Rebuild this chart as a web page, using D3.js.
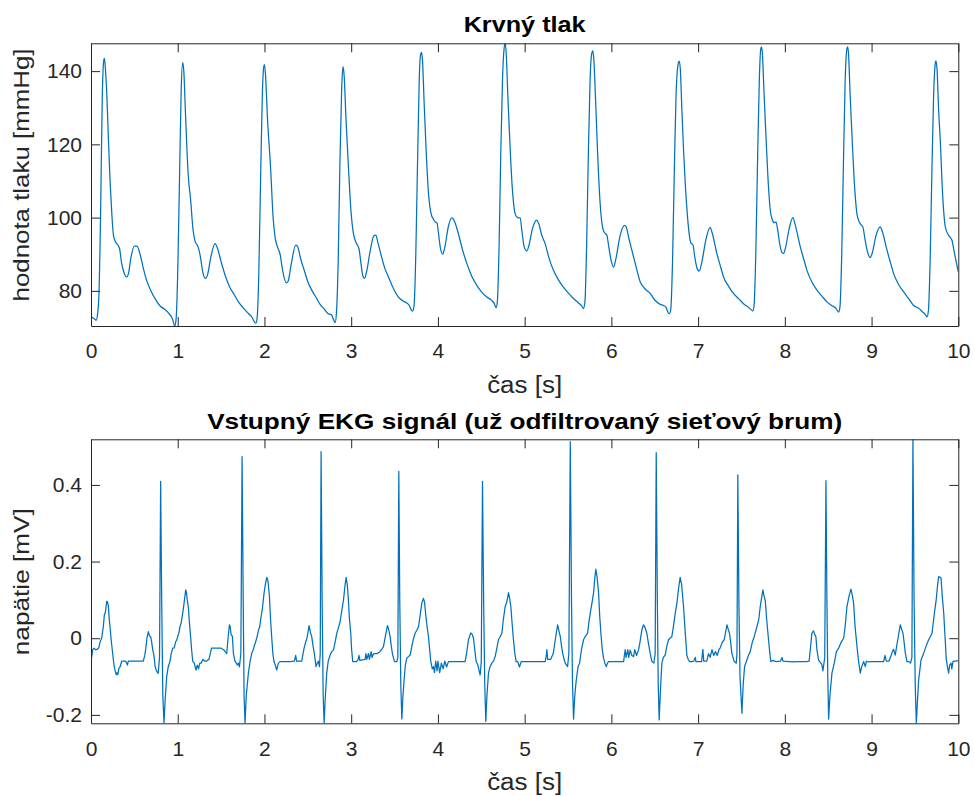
<!DOCTYPE html>
<html><head><meta charset="utf-8">
<script src="https://cdn.jsdelivr.net/npm/d3@7/dist/d3.min.js"></script>
<style>body{margin:0;background:#fff}svg{display:block}</style></head>
<body><svg id="chart" width="975" height="796"></svg>
<script>
// ---------------- data ----------------
const xTicks = [0, 1, 2, 3, 4, 5, 6, 7, 8, 9, 10];
const bpTicks = [80, 100, 120, 140];
const ekgTicks = [-0.2, 0, 0.2, 0.4];

const bpTitle = "Krvný tlak";
const ekgTitle = "Vstupný EKG signál (už odfiltrovaný sieťový brum)";
const xLabel = "čas [s]";
const bpYLabel = "hodnota tlaku [mmHg]";
const ekgYLabel = "napätie [mV]";

// blood pressure samples [time s, pressure mmHg]
const bpSamples = [
 [0,73.0],[0.03,72.5],[0.06,72.0],[0.075,73.5],[0.09,78],[0.11,100],[0.13,133],[0.145,142.5],[0.155,143.5],[0.165,141],[0.18,135],[0.2,122],[0.22,110],[0.24,101],[0.26,95],[0.28,93.5],[0.31,92.5],[0.33,91.5],[0.35,88],[0.38,85],[0.41,83.8],[0.43,84.5],[0.46,89],[0.5,92.2],[0.53,92.2],[0.56,90.5],[0.6,86.5],[0.64,83],[0.69,80],[0.74,77.8],[0.8,75.8],[0.85,75.0],[0.9,73.8],[0.94,72.3],[0.965,70.4],
 [0.98,72],[1.0,85],[1.02,110],[1.04,135],[1.057,142.3],[1.07,140],[1.09,128],[1.12,112],[1.15,104.5],[1.175,97],[1.2,93.5],[1.235,92],[1.26,89.5],[1.29,85],[1.32,83.4],[1.345,84.5],[1.38,89],[1.43,92.9],[1.46,91.5],[1.5,88],[1.55,84],[1.6,81],[1.65,79],[1.7,77],[1.75,75.5],[1.8,74.2],[1.85,73],[1.9,71.2],
 [1.915,72.5],[1.935,85],[1.955,110],[1.975,133],[1.99,141],[2.0,141.8],[2.012,139],[2.035,127],[2.07,113.9],[2.1,100],[2.12,95],[2.15,92],[2.18,90],[2.21,85.5],[2.25,82.2],[2.27,82.5],[2.31,87.5],[2.36,92.5],[2.38,92.2],[2.42,88.5],[2.46,85.5],[2.5,82.5],[2.55,80],[2.6,78],[2.65,76],[2.69,75],[2.73,73.8],[2.77,73.5],[2.8,72],[2.815,71.3],
 [2.83,74],[2.85,88],[2.87,115],[2.89,135],[2.905,141.2],[2.918,139],[2.94,127],[2.968,113.9],[3.0,101],[3.026,95.6],[3.06,93],[3.09,91.5],[3.11,88],[3.135,84],[3.155,83.4],[3.18,85.5],[3.22,91],[3.26,95],[3.283,95.2],[3.31,93],[3.35,89.3],[3.39,86],[3.43,83.8],[3.48,81],[3.545,78.3],[3.6,77.2],[3.64,76.7],[3.67,76],[3.695,74.7],[3.71,74.5],
 [3.725,76],[3.745,90],[3.765,115],[3.785,138],[3.8,144.5],[3.81,145.1],[3.822,143],[3.84,132],[3.864,118.4],[3.89,107],[3.921,101.1],[3.95,99.5],[3.97,98.8],[3.99,98.5],[4.005,96],[4.03,91.5],[4.056,90],[4.08,92],[4.12,97.5],[4.16,99.9],[4.18,99.5],[4.236,95.6],[4.28,91.5],[4.333,87.5],[4.39,84],[4.449,81.5],[4.5,79.8],[4.564,78.3],[4.62,77.4],[4.65,76.5],[4.671,75.4],
 [4.685,77],[4.705,92],[4.725,118],[4.745,138],[4.765,146.6],[4.775,147.6],[4.787,145],[4.805,134],[4.825,123],[4.855,109],[4.89,101.1],[4.92,100],[4.948,99.9],[4.97,96],[4.995,92],[5.025,90.9],[5.05,92.5],[5.09,97],[5.14,99.3],[5.16,98.5],[5.2,95],[5.236,92.9],[5.28,89],[5.332,85.6],[5.39,83],[5.447,81],[5.5,79.5],[5.563,77.9],[5.62,76.7],[5.66,75.8],[5.678,75.2],
 [5.695,77],[5.715,93],[5.735,118],[5.755,138],[5.775,145],[5.786,145.5],[5.798,143],[5.818,132],[5.84,118.4],[5.87,104],[5.902,97],[5.925,95.8],[5.948,95.2],[5.97,92],[6.0,88],[6.025,86.5],[6.05,88.5],[6.1,95],[6.15,97.9],[6.17,97.5],[6.2,94.5],[6.236,91.1],[6.28,87],[6.332,82.5],[6.39,80.5],[6.447,79.3],[6.5,77.5],[6.563,76.3],[6.6,76],[6.63,75.5],[6.655,74],[6.67,73.8],
 [6.685,75],[6.705,88],[6.725,112],[6.745,133],[6.77,142],[6.782,142.7],[6.795,140.5],[6.812,130],[6.832,118.4],[6.855,108],[6.878,100.2],[6.9,95],[6.916,93.1],[6.94,92.6],[6.96,89.5],[6.99,86],[7.013,85.4],[7.04,87.5],[7.09,94],[7.139,97.3],[7.16,96],[7.216,90.2],[7.26,86.5],[7.293,83.8],[7.35,81.3],[7.408,79.3],[7.47,77.8],[7.524,76.5],[7.58,75.5],[7.615,74.8],[7.631,74.5],
 [7.645,76],[7.665,90],[7.685,115],[7.705,137],[7.722,146],[7.731,146.6],[7.742,144.5],[7.76,134],[7.781,123],[7.805,111],[7.832,102],[7.855,99.5],[7.878,98.6],[7.9,98.8],[7.915,97],[7.94,93],[7.965,90.5],[7.985,90.2],[8.01,92],[8.05,97],[8.093,100],[8.12,98],[8.178,92],[8.22,88.5],[8.255,85.6],[8.31,82.5],[8.37,80.2],[8.43,78.5],[8.485,77],[8.54,76],[8.59,75.2],[8.619,74.2],
 [8.635,75.5],[8.655,89],[8.675,114],[8.695,137],[8.715,146],[8.724,146.6],[8.735,144.5],[8.752,134],[8.773,123],[8.8,110],[8.831,101.1],[8.855,99],[8.88,98],[8.9,97.4],[8.925,94],[8.955,90.5],[8.985,89.1],[9.01,90.5],[9.05,95],[9.1,97.5],[9.12,96.5],[9.178,91.1],[9.22,87.5],[9.254,84.7],[9.31,81.8],[9.37,79.7],[9.43,77.8],[9.485,76],[9.54,75.3],[9.59,74.2],[9.62,73.5],[9.639,72.9],
 [9.655,74.5],[9.675,88],[9.695,112],[9.715,133],[9.735,142.2],[9.742,142.8],[9.755,140.5],[9.772,130],[9.792,121.1],[9.82,106],[9.85,97.5],[9.88,95.5],[9.91,94.5],[9.927,93.8],[9.95,91],[9.975,88],[10.0,85.2]
];

// ECG samples [time s, voltage mV]
const ekgSamples = [
 [0.0,-0.06],[0.007,-0.05],[0.02,-0.03],[0.035,-0.026],[0.05,-0.03],[0.065,-0.03],[0.09,-0.025],[0.104,-0.01],[0.123,0.0],[0.142,0.03],[0.155,0.063],[0.165,0.066],[0.181,0.096],[0.19,0.095],[0.2,0.085],[0.21,0.05],[0.219,0.03],[0.235,-0.01],[0.25,-0.04],[0.265,-0.07],[0.277,-0.083],[0.29,-0.095],[0.3,-0.09],[0.31,-0.095],[0.32,-0.08],[0.335,-0.075],[0.354,-0.06],[0.38,-0.06],[0.4,-0.06],[0.42,-0.07],[0.43,-0.06],[0.5,-0.06],[0.55,-0.06],[0.603,-0.06],
 [0.62,-0.045],[0.63,-0.03],[0.645,0.0],[0.661,0.017],[0.675,0.006],[0.688,0.004],[0.7,-0.01],[0.711,-0.03],[0.726,-0.045],[0.74,-0.075],[0.755,-0.085],[0.775,-0.092],[0.79,-0.05],[0.803,0.409],[0.815,0.1],[0.828,-0.15],[0.842,-0.222],[0.855,-0.16],[0.873,-0.1],[0.89,-0.075],[0.911,-0.06],[0.925,-0.04],[0.942,-0.026],[0.96,-0.025],[0.975,-0.01],[0.988,-0.005],[1.0,0.005],[1.015,0.015],[1.026,0.03],[1.04,0.04],[1.057,0.065],[1.075,0.095],[1.092,0.126],[1.1,0.12],[1.11,0.1],[1.123,0.08],[1.135,0.04],[1.15,0.0],[1.16,-0.03],[1.173,-0.06],[1.19,-0.065],[1.211,-0.083],[1.225,-0.07],[1.24,-0.08],[1.255,-0.065],[1.27,-0.065],[1.29,-0.055],[1.31,-0.06],[1.33,-0.06],[1.36,-0.055],[1.39,-0.026],[1.45,-0.026],[1.5,-0.026],[1.53,-0.03],[1.546,-0.035],
 [1.565,-0.04],[1.58,0.0],[1.596,0.035],[1.605,0.03],[1.615,0.01],[1.63,0.005],[1.642,-0.04],[1.66,-0.06],[1.675,-0.065],[1.688,-0.07],[1.7,-0.065],[1.711,-0.075],[1.728,-0.04],[1.742,0.474],[1.755,0.1],[1.765,-0.15],[1.776,-0.222],[1.79,-0.15],[1.815,-0.09],[1.835,-0.06],[1.853,-0.04],[1.87,-0.03],[1.89,-0.015],[1.911,0.0],[1.93,0.02],[1.945,0.03],[1.961,0.056],[1.975,0.075],[1.995,0.117],[2.01,0.14],[2.026,0.159],[2.04,0.15],[2.057,0.11],[2.07,0.05],[2.083,0.004],[2.097,-0.04],[2.11,-0.061],[2.125,-0.07],[2.141,-0.083],[2.16,-0.065],[2.18,-0.061],[2.25,-0.061],[2.3,-0.061],[2.345,-0.06],[2.36,-0.045],[2.37,-0.06],[2.43,-0.06],
 [2.445,-0.04],[2.457,-0.026],[2.475,-0.01],[2.49,0.0],[2.515,0.033],[2.53,0.015],[2.545,0.004],[2.56,-0.02],[2.575,-0.04],[2.595,-0.074],[2.61,-0.065],[2.622,-0.06],[2.634,-0.074],[2.643,-0.04],[2.653,0.487],[2.665,0.1],[2.677,-0.15],[2.688,-0.222],[2.7,-0.16],[2.718,-0.091],[2.735,-0.06],[2.757,-0.044],[2.775,-0.035],[2.795,-0.031],[2.815,-0.01],[2.834,0.013],[2.85,0.025],[2.872,0.043],[2.89,0.07],[2.911,0.099],[2.925,0.13],[2.941,0.159],[2.955,0.14],[2.968,0.099],[2.98,0.05],[2.995,0.013],[3.005,-0.03],[3.018,-0.061],[3.04,-0.061],[3.06,-0.061],
 [3.08,-0.055],[3.09,-0.045],[3.1,-0.058],[3.16,-0.055],[3.17,-0.04],[3.18,-0.055],[3.2,-0.04],[3.21,-0.055],[3.23,-0.035],[3.24,-0.05],[3.26,-0.04],[3.3,-0.04],[3.33,-0.035],
 [3.35,-0.03],[3.372,-0.022],[3.39,0.0],[3.418,0.033],[3.43,0.025],[3.449,0.004],[3.462,-0.02],[3.475,-0.04],[3.499,-0.061],[3.526,-0.061],[3.538,-0.05],[3.549,0.435],[3.56,0.1],[3.572,-0.12],[3.584,-0.211],[3.597,-0.15],[3.61,-0.109],[3.625,-0.07],[3.641,-0.052],[3.66,-0.048],[3.68,-0.044],[3.7,-0.02],[3.72,0.0],[3.737,0.013],[3.755,0.02],[3.776,0.03],[3.795,0.06],[3.814,0.091],[3.833,0.104],[3.845,0.095],[3.86,0.06],[3.875,0.03],[3.891,0.004],[3.905,-0.03],[3.918,-0.061],[3.935,-0.08],[3.949,-0.074],[3.96,-0.09],[3.975,-0.06],[3.99,-0.085],[4.0,-0.06],[4.02,-0.09],[4.04,-0.065],[4.06,-0.08],[4.08,-0.06],[4.1,-0.075],[4.121,-0.061],[4.2,-0.061],[4.313,-0.061],
 [4.33,-0.04],[4.352,-0.004],[4.379,0.014],[4.395,0.01],[4.41,0.0],[4.425,-0.03],[4.441,-0.061],[4.46,-0.07],[4.487,-0.096],[4.5,-0.06],[4.514,0.409],[4.527,0.1],[4.54,-0.12],[4.552,-0.217],[4.565,-0.15],[4.583,-0.091],[4.6,-0.075],[4.621,-0.065],[4.64,-0.06],[4.66,-0.048],[4.68,-0.025],[4.698,-0.004],[4.72,0.005],[4.737,0.013],[4.755,0.05],[4.775,0.082],[4.795,0.095],[4.814,0.119],[4.83,0.1],[4.841,0.082],[4.855,0.04],[4.871,-0.004],[4.887,-0.04],[4.902,-0.061],[4.92,-0.061],[4.94,-0.075],[4.96,-0.061],[5.0,-0.061],[5.1,-0.061],[5.2,-0.061],[5.237,-0.061],[5.25,-0.045],[5.257,-0.03],[5.265,-0.055],[5.3,-0.055],[5.33,-0.04],
 [5.353,-0.004],[5.38,0.035],[5.395,0.02],[5.411,0.004],[5.425,-0.02],[5.438,-0.039],[5.455,-0.055],[5.468,-0.065],[5.495,-0.074],[5.51,-0.04],[5.526,0.513],[5.54,0.1],[5.552,-0.12],[5.564,-0.211],[5.578,-0.15],[5.595,-0.109],[5.615,-0.075],[5.633,-0.065],[5.655,-0.03],[5.679,-0.004],[5.7,0.005],[5.726,0.013],[5.74,0.04],[5.756,0.065],[5.775,0.09],[5.795,0.119],[5.81,0.16],[5.821,0.18],[5.835,0.16],[5.852,0.119],[5.865,0.06],[5.879,0.013],[5.895,-0.03],[5.91,-0.052],[5.925,-0.065],[5.941,-0.074],[5.955,-0.065],[5.968,-0.061],[6.05,-0.061],[6.141,-0.061],[6.15,-0.045],[6.16,-0.03],[6.17,-0.05],[6.19,-0.03],[6.2,-0.05],[6.217,-0.031],[6.236,-0.045],[6.255,-0.048],[6.27,-0.03],[6.29,-0.045],
 [6.313,-0.031],[6.33,-0.01],[6.35,0.02],[6.37,0.035],[6.385,0.03],[6.409,0.013],[6.425,-0.01],[6.447,-0.039],[6.467,-0.061],[6.49,-0.065],[6.505,-0.04],[6.517,0.484],[6.53,0.1],[6.54,-0.12],[6.551,-0.213],[6.565,-0.14],[6.582,-0.065],[6.6,-0.05],[6.62,-0.044],[6.64,-0.02],[6.659,-0.004],[6.675,0.0],[6.697,0.004],[6.715,0.03],[6.736,0.065],[6.755,0.09],[6.775,0.13],[6.793,0.159],[6.81,0.14],[6.832,0.082],[6.85,0.02],[6.87,-0.044],[6.885,-0.055],[6.901,-0.061],[6.93,-0.061],[6.95,-0.06],[6.967,-0.05],[6.975,-0.061],[7.04,-0.061],[7.055,-0.029],[7.065,-0.06],[7.1,-0.06],[7.12,-0.04],[7.139,-0.05],[7.16,-0.03],[7.18,-0.045],[7.2,-0.035],[7.22,-0.045],[7.24,-0.03],[7.255,-0.025],
 [7.28,-0.01],[7.301,-0.004],[7.332,0.035],[7.345,0.025],[7.362,0.013],[7.375,-0.01],[7.389,-0.039],[7.416,-0.061],[7.44,-0.065],[7.448,-0.04],[7.458,0.426],[7.47,0.1],[7.483,-0.1],[7.505,-0.196],[7.52,-0.12],[7.536,-0.074],[7.562,-0.057],[7.58,-0.045],[7.601,-0.035],[7.625,-0.01],[7.647,0.004],[7.678,0.03],[7.7,0.05],[7.716,0.082],[7.735,0.11],[7.747,0.126],[7.76,0.11],[7.774,0.099],[7.79,0.05],[7.812,-0.004],[7.825,-0.035],[7.839,-0.061],[7.86,-0.058],[7.9,-0.061],[7.95,-0.06],[7.966,-0.05],[7.98,-0.06],[8.05,-0.061],[8.1,-0.062],[8.15,-0.061],[8.2,-0.061],[8.25,-0.061],[8.28,-0.06],
 [8.293,-0.03],[8.312,0.013],[8.331,0.019],[8.345,0.01],[8.358,0.004],[8.37,-0.03],[8.389,-0.057],[8.416,-0.065],[8.428,-0.07],[8.439,-0.085],[8.46,-0.05],[8.474,0.411],[8.485,0.1],[8.495,-0.1],[8.505,-0.211],[8.52,-0.15],[8.543,-0.091],[8.57,-0.065],[8.595,-0.035],[8.62,-0.026],[8.65,-0.01],[8.678,0.0],[8.695,0.03],[8.716,0.082],[8.74,0.11],[8.762,0.128],[8.78,0.11],[8.793,0.091],[8.81,0.03],[8.832,-0.022],[8.85,-0.06],[8.87,-0.091],[8.885,-0.075],[8.909,-0.061],[8.928,-0.074],[8.94,-0.06],[8.96,-0.062],[9.0,-0.061],[9.1,-0.061],[9.139,-0.061],[9.155,-0.045],[9.17,-0.06],[9.2,-0.06],[9.225,-0.045],[9.24,-0.035],[9.254,-0.029],[9.273,-0.044],[9.29,-0.02],
 [9.312,0.009],[9.331,0.035],[9.345,0.025],[9.362,0.013],[9.375,-0.01],[9.389,-0.039],[9.408,-0.061],[9.43,-0.061],[9.45,-0.065],[9.465,-0.05],[9.477,0.519],[9.49,0.1],[9.503,-0.12],[9.516,-0.222],[9.53,-0.16],[9.543,-0.109],[9.57,-0.057],[9.601,-0.039],[9.63,-0.02],[9.658,-0.004],[9.68,0.005],[9.697,0.013],[9.724,0.065],[9.745,0.1],[9.762,0.14],[9.774,0.161],[9.801,0.157],[9.815,0.11],[9.832,0.065],[9.848,0.0],[9.862,-0.057],[9.875,-0.075],[9.889,-0.091],[9.9,-0.07],[9.916,-0.065],[9.925,-0.08],[9.939,-0.061],[9.96,-0.06],[9.98,-0.059],[10.0,-0.059]
];

// ---------------- drawing ----------------
const svg = d3.select("#chart");
const FONT = "'Liberation Sans', Arial, Helvetica, sans-serif";
const AX = "#262626";
const LINE = "#0072BD";
const left = 91, right = 958.3;

const x = d3.scaleLinear().domain(d3.extent(xTicks)).range([left, right]);

function panel(cfg) {
  const y = d3.scaleLinear().domain(d3.extent(cfg.data, d => d[1])).range([cfg.bottom, cfg.top]);
  const g = svg.append("g");
  const clipId = "clip" + cfg.id;
  svg.append("clipPath").attr("id", clipId).append("rect")
    .attr("x", left).attr("y", cfg.top).attr("width", right - left).attr("height", cfg.bottom - cfg.top);

  const lineGen = d3.line().x(d => x(d[0])).y(d => y(d[1])).curve(cfg.curve);
  g.append("path").datum(cfg.data)
    .attr("d", lineGen).attr("fill", "none").attr("stroke", LINE)
    .attr("stroke-width", 1.25).attr("stroke-linejoin", "round")
    .attr("clip-path", `url(#${clipId})`);

  const fmt = d => String(d);
  const styleAxis = sel => {
    sel.select(".domain").attr("stroke", AX).attr("stroke-width", 1);
    sel.selectAll(".tick line").attr("stroke", AX).attr("stroke-width", 1);
    sel.selectAll(".tick text").attr("fill", AX).style("font-family", FONT).style("font-size", "21px");
  };
  const T = 9;
  g.append("g").attr("transform", `translate(0,${cfg.bottom})`)
    .call(d3.axisBottom(x).tickValues(xTicks).tickFormat(fmt).tickSizeInner(-T).tickSizeOuter(0).tickPadding(17.5))
    .call(styleAxis);
  g.append("g").attr("transform", `translate(0,${cfg.top})`)
    .call(d3.axisTop(x).tickValues(xTicks).tickFormat("").tickSizeInner(-T).tickSizeOuter(0))
    .call(styleAxis);
  g.append("g").attr("transform", `translate(${left},0)`)
    .call(d3.axisLeft(y).tickValues(cfg.ticks).tickFormat(fmt).tickSizeInner(-T).tickSizeOuter(0).tickPadding(9))
    .call(styleAxis);
  g.append("g").attr("transform", `translate(${right},0)`)
    .call(d3.axisRight(y).tickValues(cfg.ticks).tickFormat("").tickSizeInner(-T).tickSizeOuter(0))
    .call(styleAxis);

  // title
  svg.append("text").text(cfg.title)
    .attr("x", (left + right) / 2).attr("y", cfg.titleY)
    .attr("text-anchor", "middle").attr("font-family", FONT).attr("font-weight", "bold")
    .attr("font-size", 22).attr("fill", "#000")
    .attr("textLength", cfg.titleLen).attr("lengthAdjust", "spacingAndGlyphs");
  // x label
  svg.append("text").text(xLabel)
    .attr("x", (left + right) / 2).attr("y", cfg.xLabelY)
    .attr("text-anchor", "middle").attr("font-family", FONT)
    .attr("font-size", 23).attr("fill", AX)
    .attr("textLength", 75).attr("lengthAdjust", "spacingAndGlyphs");
  // y label
  svg.append("text").text(cfg.ylabel)
    .attr("transform", `translate(29,${cfg.yLabelC}) rotate(-90)`)
    .attr("text-anchor", "middle").attr("font-family", FONT)
    .attr("font-size", 22).attr("fill", AX)
    .attr("textLength", cfg.yLabelLen).attr("lengthAdjust", "spacingAndGlyphs");
}

panel({id: 1, data: bpSamples, ticks: bpTicks, top: 43.3, bottom: 326, curve: d3.curveMonotoneX,
  title: bpTitle, titleY: 31.7, titleLen: 122, xLabelY: 393, ylabel: bpYLabel, yLabelC: 175, yLabelLen: 253});
panel({id: 2, data: ekgSamples, ticks: ekgTicks, top: 439.3, bottom: 723.3, curve: d3.curveLinear,
  title: ekgTitle, titleY: 428.5, titleLen: 635, xLabelY: 790, ylabel: ekgYLabel, yLabelC: 581.7, yLabelLen: 147});
</script>
</body></html>
